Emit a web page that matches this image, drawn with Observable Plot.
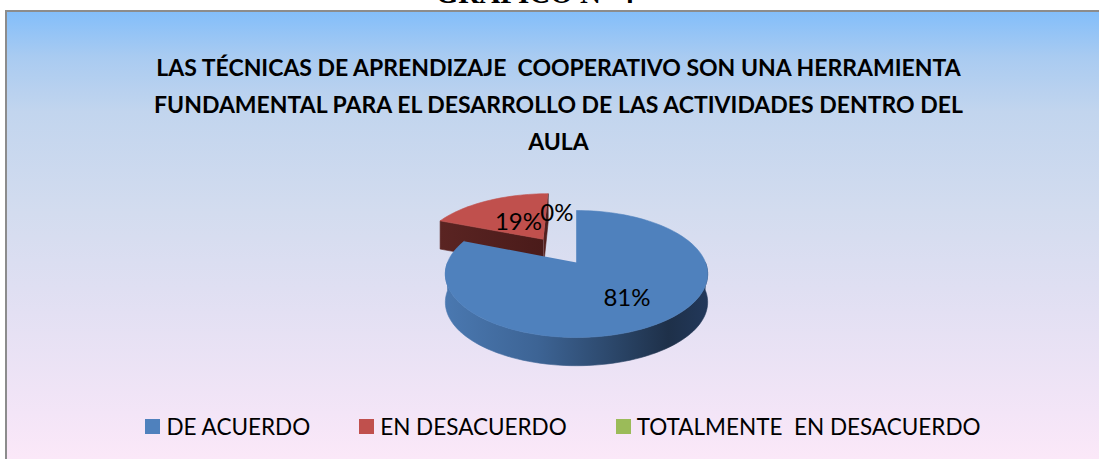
<!DOCTYPE html>
<html>
<head>
<meta charset="utf-8">
<script src="https://cdn.jsdelivr.net/npm/d3@7"></script>
<script src="https://cdn.jsdelivr.net/npm/@observablehq/plot@0.6"></script>
<style>
  html, body { margin: 0; padding: 0; width: 1099px; height: 459px; overflow: hidden; background: #ffffff; }
  #heading { position: absolute; left: 0; width: 1070px; top: -21px; text-align: center;
    font: bold 29px/29px "Liberation Serif", "Times New Roman", serif; color: #000; white-space: pre; }
  #box { position: absolute; left: 5px; top: 10px; width: 1200px; height: 520px;
    border: 2px solid #8c8c8c; box-sizing: border-box;
    background: linear-gradient(to bottom, #83BEFA 0px, #A9CBF1 45px, #C2D5EE 100px, #D3DCEF 200px, #E3E0F3 300px, #F3E5F7 400px, #FBE8F8 447px, #FBE8F8 520px); }
  .title { position: absolute; left: 0; width: 1117px; text-align: center; color: #000;
    font: bold 23px/1.2 Lato, "Open Sans", sans-serif; white-space: pre; }
  #chart { position: absolute; left: 0; top: 0; }
  #legend { position: absolute; left: 0; width: 1126px; top: 413px; display: flex; justify-content: center;
    gap: 49px; font: 22.5px/1.2 Lato, "Open Sans", sans-serif; color: #000; }
  .item { display: flex; align-items: center; white-space: pre; }
  .sw { width: 15px; height: 15px; margin-right: 6px; flex: none; }
</style>
</head>
<body>
<div id="heading"></div>
<div id="box"></div>
<div id="titles"></div>
<div id="chart"></div>
<div id="legend"></div>
<script>
// ---------------- data ----------------
const heading = "GRÁFICO N° 4";
const titleLines = [
  "LAS TÉCNICAS DE APRENDIZAJE  COOPERATIVO SON UNA HERRAMIENTA",
  "FUNDAMENTAL PARA EL DESARROLLO DE LAS ACTIVIDADES DENTRO DEL",
  "AULA"
];
const categories = ["DE ACUERDO", "EN DESACUERDO", "TOTALMENTE  EN DESACUERDO"];
const percentages = [81, 19, 0];
const valueLabels = ["81%", "19%", "0%"];
const colors = ["#4F81BD", "#C0504D", "#9BBB59"];

// ---------------- layout (not data) ----------------
const CX = 576, CY = 262, RX = 129, RY = 61.4;   // pie centre and radii on screen
const K = 0.181;          // perspective strength
const DEPTH = 0.46;       // wall height in y units
const explode = [0, 0.49, 0];
const labelRadius = [0.63, 0.42, 0.93];
const sideStops = [
  [[0, "#4A78B0"], [0.35, "#3D6495"], [0.6, "#2E4B70"], [0.85, "#1E3049"], [1, "#22385A"]],
  [[0, "#5A2422"], [1, "#4A1B1A"]],
  [[0, "#5E7434"], [1, "#3F4E22"]]
];
const titleBaselines = [77, 114, 151];

// ---------------- heading / titles / legend ----------------
document.getElementById("heading").textContent = heading;
const tdiv = document.getElementById("titles");
titleLines.forEach((t, i) => {
  const d = document.createElement("div");
  d.className = "title";
  d.textContent = t;
  d.style.top = (titleBaselines[i] - 0.987 * 23) + "px";
  tdiv.appendChild(d);
});
const leg = document.getElementById("legend");
categories.forEach((c, i) => {
  const it = document.createElement("div");
  it.className = "item";
  const sw = document.createElement("span");
  sw.className = "sw";
  sw.style.background = colors[i];
  const tx = document.createElement("span");
  tx.textContent = c;
  it.appendChild(sw); it.appendChild(tx);
  leg.appendChild(it);
});

// ---------------- pie geometry ----------------
const arcs = d3.pie().sort(null).value(d => d)(percentages);
function proj(u, v, h) {
  const s = 1 / (1 + K * v);
  return {x: u * s, y: v * s - h * DEPTH};
}
function angles(a0, a1) {
  const n = Math.max(2, Math.ceil((a1 - a0) / (2 * Math.PI) * 160));
  return d3.range(n + 1).map(j => a0 + (a1 - a0) * j / n);
}
const camera = {u: 0, v: -1 / K};

const slices = arcs.map((a, i) => {
  const mid = (a.startAngle + a.endAngle) / 2;
  const O = {u: explode[i] * Math.sin(mid), v: explode[i] * Math.cos(mid)};
  return {i, a0: a.startAngle, a1: a.endAngle, mid, O,
    depthKey: O.v + 0.5 * Math.cos(mid)};
}).filter(s => s.a1 - s.a0 > 1e-9);

slices.sort((p, q) => q.depthKey - p.depthKey); // far first

const marks = [];
for (const s of slices) {
  const {O, a0, a1, i} = s;
  const P = (a, h) => proj(O.u + Math.sin(a), O.v + Math.cos(a), h);
  const C = h => proj(O.u, O.v, h);
  const sideFill = `url(#side${i})`;
  const faces = [];
  // radial faces
  const radial = [
    {a: a0, n: {u: -Math.cos(a0), v: Math.sin(a0)}},
    {a: a1, n: {u: Math.cos(a1), v: -Math.sin(a1)}}
  ];
  for (const r of radial) {
    const p = {u: O.u + 0.5 * Math.sin(r.a), v: O.v + 0.5 * Math.cos(r.a)};
    const dot = r.n.u * (camera.u - p.u) + r.n.v * (camera.v - p.v);
    if (dot > 1e-6) {
      faces.push([C(0), P(r.a, 0), P(r.a, 1), C(1)]);
    }
  }
  // outer wall (front half only)
  const w0 = Math.max(a0, Math.PI / 2), w1 = Math.min(a1, 3 * Math.PI / 2);
  if (w1 > w0) {
    const as = angles(w0, w1);
    faces.push([...as.map(a => P(a, 0)), ...as.slice().reverse().map(a => P(a, 1))]);
  }
  for (const f of faces) {
    marks.push(Plot.line(f, {x: "x", y: "y", fill: sideFill, stroke: sideFill, strokeWidth: 0.6}));
  }
  // top face
  const top = [C(0), ...angles(a0, a1).map(a => P(a, 0))];
  marks.push(Plot.line(top, {x: "x", y: "y", fill: colors[i], stroke: colors[i], strokeWidth: 0.6}));
}

// labels
const labelData = arcs.map((a, i) => {
  const mid = (a.startAngle + a.endAngle) / 2;
  const u = explode[i] * Math.sin(mid) + labelRadius[i] * Math.sin(mid);
  const v = explode[i] * Math.cos(mid) + labelRadius[i] * Math.cos(mid);
  const p = proj(u, v, 0);
  return {x: p.x, y: p.y, text: valueLabels[i], zero: percentages[i] === 0};
});
marks.push(Plot.text(labelData.filter(d => !d.zero), {x: "x", y: "y", text: "text", fontSize: 24, fill: "#000"}));
marks.push(Plot.text(labelData.filter(d => d.zero), {x: "x", y: "y", text: "text", fontSize: 24, fill: "#000", textAnchor: "end", dx: -3}));

const chart = Plot.plot({
  width: 1099,
  height: 459,
  margin: 0,
  x: {domain: [-1, 1], range: [CX - RX, CX + RX], axis: null},
  y: {domain: [-1, 1], range: [CY + RY, CY - RY], axis: null},
  style: {background: "transparent", fontFamily: "Lato, 'Open Sans', sans-serif", overflow: "visible"},
  marks
});

// gradient definitions for the walls
const defs = d3.select(chart).insert("defs", ":first-child");
sideStops.forEach((stops, i) => {
  const g = defs.append("linearGradient").attr("id", `side${i}`)
    .attr("x1", "0").attr("y1", "0").attr("x2", "1").attr("y2", "0");
  stops.forEach(([o, c]) => g.append("stop").attr("offset", o).attr("stop-color", c));
});
document.getElementById("chart").appendChild(chart);
</script>
</body>
</html>
